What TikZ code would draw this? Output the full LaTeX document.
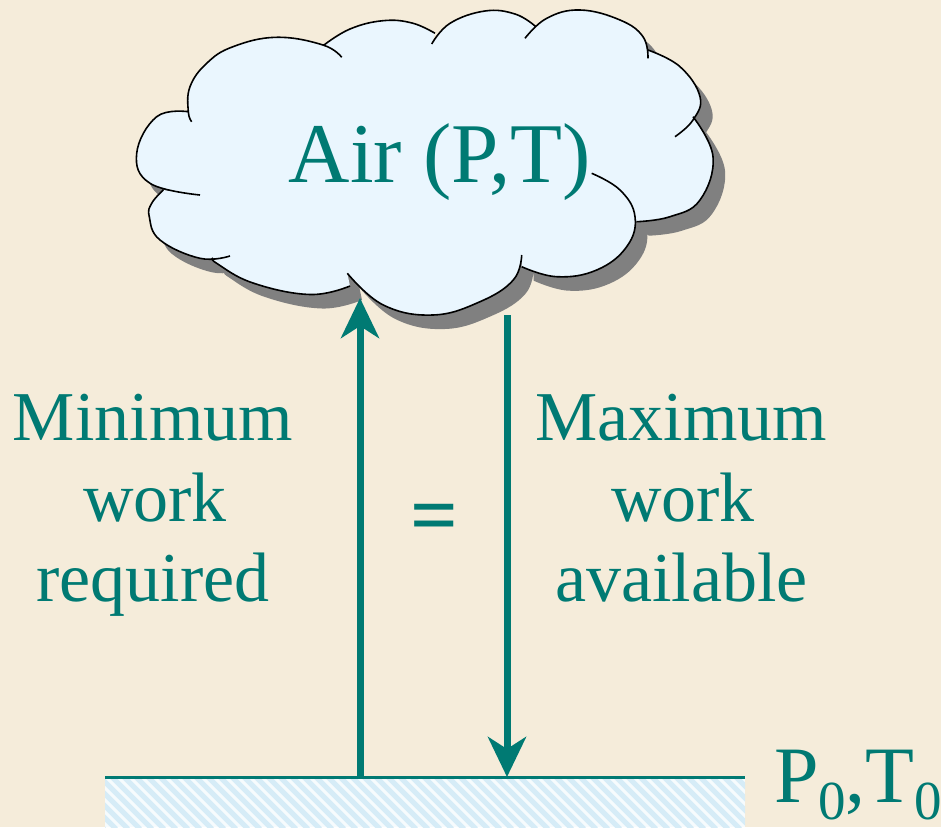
\documentclass[tikz,border=0pt]{standalone}
\usepackage{fontspec}
\setmainfont{Liberation Serif}
\usetikzlibrary{arrows.meta}
\definecolor{bgbeige}{RGB}{245,236,218}
\definecolor{tealtxt}{RGB}{0,122,115}
\definecolor{cloudblue}{RGB}{234,246,254}
\definecolor{shadowgray}{RGB}{128,128,128}
\definecolor{hatchbg}{RGB}{246,251,253}
\definecolor{hatchline}{RGB}{214,236,247}
\newcommand\cloudpath[3]{\path[#1]
 plot[smooth,tension=.7] coordinates {(191.7,121.7) (188.3,111.7) (190,86.7) (206.7,63.3) (233,46.7) (276.7,37.3) (323,45) (341.7,57.3)}
 #2 plot[smooth,tension=.7] coordinates {(324,45) (350,29) (383,20.7) (412,23) (435,33.3)}
 #2 plot[smooth,tension=.7] coordinates {(431.7,44) (450,23.3) (485,11) (515,14) (535,26)}
 #2 plot[smooth,tension=.7] coordinates {(525,38.3) (546.7,18.3) (580,10) (620,20) (643,36.7) (648,58.3)}
 #2 plot[smooth,tension=.7] coordinates {(648,50) (680,66.7) (700,96.7) (693,120) (675,136.7)}
 #2 plot[smooth,tension=.7] coordinates {(693,116.7) (713,156.7) (700,200) (670,216.7) (636.7,221.7)}
 #2 plot[smooth,tension=.7] coordinates {(591.7,173.3) (620,190) (635,216.7) (626.7,246.7) (596.7,270) (556.7,276.7) (521.7,266.7)}
 #2 plot[smooth,tension=.7] coordinates {(521.7,255) (513.3,280) (480,301.7) (433,315) (383.3,305) (347.3,273.3)}
 #2 plot[smooth,tension=.7] coordinates {(350,286) (310,294.5) (253,283) (216.7,263.3) (213,258)}
 #2 plot[smooth,tension=.7] coordinates {(230,256) (200,258.3) (160,240) (149.3,216.7) (151.7,203.3) (163.3,190)}
 #2 plot[smooth,tension=.7] coordinates {(200,195) (150,183.3) (136.7,153.3) (156.7,116.7) (188.3,111.7)}
 #3;}
\newcommand\subnum{\raisebox{-17pt}{\fontsize{55}{55}\selectfont 0}}
\tikzset{
 lbl/.style={text=tealtxt, inner sep=0pt, anchor=base, font=\fontsize{70}{70}\selectfont},
 arr/.style={draw=tealtxt, line width=7pt, -{Stealth[length=40pt,width=38pt,inset=12pt]}},
 groundline/.style={draw=tealtxt, line width=3pt},
 hatchstroke/.style={draw=hatchline, line width=5pt},
 cloudstroke/.style={draw=black, line width=1.6pt}
}
\begin{document}
\begin{tikzpicture}[x=1pt,y=-1pt]
\useasboundingbox (0,0) rectangle (941,827);
\fill[bgbeige] (0,0) rectangle (941,827);
% cloud
\begin{scope}[shift={(12,14)}]
\cloudpath{fill=shadowgray}{--}{-- cycle}
\end{scope}
\cloudpath{fill=cloudblue}{--}{-- cycle}
\cloudpath{cloudstroke}{}{}
\node[lbl, font=\fontsize{85}{85}\selectfont] (air) at (440,182) {Air (P,T)};
% ground
\begin{scope}
\clip (105,779) rectangle (745,827);
\fill[hatchbg] (105,779) rectangle (745,827);
\foreach \i in {0,...,60} \draw[hatchstroke] ({40+\i*12},777) -- ({40+\i*12+52},829);
\end{scope}
\coordinate (gl) at (105,777);
\coordinate (gr) at (745,777);
% arrows
\coordinate (upS) at (360,777);
\coordinate (upE) at (360,298);
\coordinate (dnS) at (507,315);
\coordinate (dnE) at (507,777);
\draw[arr] (upS) -- (upE);
\draw[arr] (dnS) -- (dnE);
\draw[groundline] (gl) -- (gr);
% labels
\node[lbl] (min1) at (153,440) {Minimum};
\node[lbl] (min2) at (155,521) {work};
\node[lbl] (min3) at (153,601) {required};
\node[lbl] (max1) at (681.5,440) {Maximum};
\node[lbl] (max2) at (683,521) {work};
\node[lbl] (max3) at (681.5,601) {available};
\node[lbl, font=\fontsize{84}{84}\selectfont\bfseries] (eq) at (434,543) {=};
\node[text=tealtxt, inner sep=0pt, anchor=base west, font=\fontsize{80}{80}\selectfont] (pt0) at (774,802)
 {P\subnum\kern-1pt,T\subnum};
\end{tikzpicture}
\end{document}
